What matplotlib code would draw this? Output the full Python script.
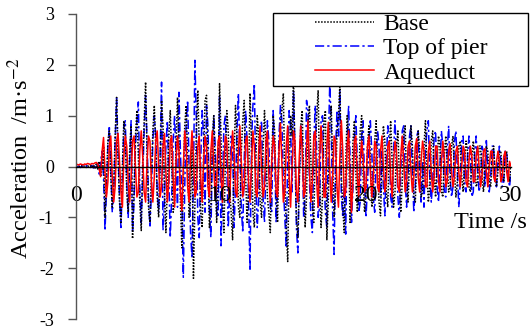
import matplotlib
matplotlib.use("Agg")
import matplotlib.pyplot as plt
from matplotlib.patches import Rectangle
import numpy as np

plt.rcParams['font.family'] = ['Liberation Serif', 'DejaVu Serif']
plt.rcParams['mathtext.fontset'] = 'stix'
plt.rcParams['axes.unicode_minus'] = False

dt = 0.1
base = [
    0.00, 0.01, -0.01, 0.02, 0.01, -0.01, 0.02, -0.02, 0.01, 0.00,
    0.02, -0.02, 0.03, -0.03, 0.05, -0.05, 0.10, -0.20, -0.05, 0.40,
    -1.00, -0.30, 0.50, 0.70, -0.20, -0.80, -0.40, 0.60, 1.36, 0.20,
    -0.70, -1.10, 0.00, 0.90, 0.60, -0.50, -0.90, 0.30, 0.80, -1.42,
    -0.50, 0.60, 1.10, 0.20, -0.70, -1.26, 0.10, 0.90, 1.66, 0.30,
    -0.80, -1.10, -0.20, 0.70, 1.20, 0.40, -0.60, -1.00, 0.00, 1.30,
    0.80, -0.50, -1.30, -0.40, 0.60, 1.10, 0.20, -0.90, -0.70, 0.40,
    1.36, 0.50, -0.70, -1.60, -0.30, 0.80, 1.20, 0.10, -1.00, -0.60,
    0.50, -2.20, -0.80, 0.70, 1.50, 0.40, -0.90, -1.20, 0.20, 1.30,
    1.40, 0.10, -1.20, -0.80, 0.50, 1.00, -0.10, -1.10, -0.30, 1.63,
    0.60, -0.70, -1.30, 0.10, 1.10, 0.70, -0.50, -0.90, -1.44, 0.20,
    1.20, 0.60, -0.80, -1.00, 0.30, 0.90, 1.30, -0.20, -1.10, -0.40,
    1.44, 0.50, -0.90, -1.20, 0.10, 1.00, 0.60, -0.70, -1.00, 0.30,
    1.10, 0.40, -0.60, -0.90, -1.30, 0.20, 1.00, 0.70, -0.60, -1.10,
    0.30, 0.90, 1.10, 1.44, -0.20, -1.20, -1.87, 0.00, 1.00, 0.60,
    1.78, 0.20, -1.00, -1.40, -0.30, 0.80, 1.10, -0.20, -1.20, -0.60,
    0.90, 1.20, 0.10, -0.80, -1.10, 0.40, 1.00, 1.50, -0.30, -1.20,
    -0.60, 0.90, 1.10, -1.44, -0.70, 0.80, 1.20, 0.10, -1.00, -0.50,
    0.70, 1.00, 1.63, -0.20, -0.80, -1.30, 0.10, 1.00, 0.60, -1.10,
    -0.60, 0.50, 0.90, -0.10, -0.90, -0.40, 0.70, 1.00, -0.20, -0.90,
    -0.50, 0.40, 0.80, 0.20, -0.80, -0.60, 0.50, 0.90, -0.10, -0.70,
    -0.97, 0.00, 0.80, 0.50, -0.50, -0.80, 0.30, 0.90, 0.10, -0.80,
    -0.50, 0.40, 0.70, -0.20, -0.90, -0.30, 0.60, 0.80, -0.30, -0.70,
    0.10, 0.80, 0.40, -0.60, -0.70, 0.20, 0.70, 0.30, -0.60, -0.50,
    0.40, 0.90, -0.10, -0.70, -0.40, 0.50, 0.70, -0.20, -0.60, 0.10,
    0.60, 0.40, -0.50, -0.60, 0.20, 0.60, 0.10, -0.50, -0.40, 0.40,
    0.60, -0.10, -0.60, -0.30, 0.40, 0.50, -0.20, -0.50, 0.10, 0.50,
    0.30, -0.40, -0.50, 0.20, 0.50, 0.10, -0.40, -0.30, 0.40, 0.40,
    -0.20, -0.50, 0.00, 0.40, 0.30, -0.30, -0.40, 0.20, 0.40, -0.10,
    -0.40, -0.10, 0.30, 0.30, -0.20, -0.30, 0.20, 0.30, -0.10, -0.30,
    0.00,
]
top_of_pier = [
    0.00, -0.01, 0.01, -0.02, 0.01, 0.00, -0.01, 0.02, -0.01, 0.01,
    -0.02, 0.02, -0.03, 0.04, -0.05, 0.06, -0.15, 0.10, 0.30, -0.20,
    -1.26, -0.50, 0.40, 0.80, 0.00, -0.90, -0.60, 0.50, 1.35, 0.40,
    -0.60, -1.20, -0.30, 0.80, 0.90, -0.30, -1.00, 0.10, 0.90, -1.30,
    -0.70, 0.40, 0.90, 1.27, -0.40, -1.10, -0.20, 0.70, 1.40, 0.50,
    -0.60, -1.20, -0.50, 0.50, 1.00, 0.60, -0.50, -0.90, 0.20, 1.66,
    -1.26, -0.70, 0.40, 0.90, -0.20, -1.40, -0.60, 0.50, 1.00, 0.20,
    -0.80, 1.46, 0.30, -0.60, -2.18, -0.40, 0.90, 1.30, 0.00, -1.30,
    -1.80, -0.20, 2.09, 0.90, -1.00, -1.40, 0.10, 1.10, 0.60, -0.90,
    1.20, 0.80, -0.80, -1.40, 0.20, 1.00, 0.40, -0.90, -1.00, 1.40,
    -1.56, -0.40, 0.80, 1.00, 0.00, -1.20, -0.50, 0.60, 0.40, -1.20,
    -0.40, 0.70, 1.44, 0.20, -0.80, -1.30, 0.10, 1.10, 0.50, -0.70,
    -2.05, 0.40, 1.20, 1.63, -0.30, -1.20, -0.60, 0.70, 0.90, -0.60,
    -1.10, 0.00, 0.90, 0.50, -0.80, -0.90, 1.10, 0.30, -1.10, -0.50,
    0.60, 1.20, 0.90, -0.40, -1.00, -1.60, 0.20, 1.10, 0.80, -0.50,
    1.50, 0.40, -1.20, -1.70, -0.20, 0.80, 0.60, -1.00, -0.60, 1.30,
    1.10, -0.30, -1.00, -1.30, 0.50, 1.20, 0.30, -1.00, -0.80, 0.90,
    1.00, -0.20, -0.90, -1.20, 0.40, 1.63, 0.90, -0.90, -1.73, 0.30,
    1.10, 0.60, 1.50, -0.60, -1.00, -0.40, -1.33, 0.50, 1.20, 0.20,
    -1.10, -0.40, 0.60, 1.00, 0.10, -0.90, -0.70, 0.60, 0.90, -0.30,
    -1.00, -0.40, 0.50, 0.90, 0.30, -0.60, -0.90, 0.20, 0.70, 0.40,
    -0.60, 0.30, -0.40, -0.97, 0.10, 0.80, 0.50, -0.60, -0.80, 0.30,
    0.90, 0.20, -0.60, -1.00, -0.10, 0.70, 0.80, -0.30, -0.80, -0.20,
    0.60, 0.80, -0.20, -0.90, -0.40, 0.60, 0.70, -0.30, -0.70, 0.10,
    -0.80, 0.30, 0.70, 0.90, -0.20, -0.70, -0.30, 0.60, 0.70, -0.40,
    -0.70, 0.00, 0.70, 0.40, -0.50, -0.60, 0.30, 0.80, -0.20, -0.60,
    -0.40, 0.50, 0.70, -0.10, -0.80, -0.30, 0.50, 0.60, -0.40, -0.50,
    0.20, 0.60, 0.20, -0.60, -0.50, 0.30, 0.60, -0.10, -0.50, -0.30,
    0.40, 0.30, -0.40, 0.51, -0.10, -0.50, -0.20, 0.40, 0.40, -0.30,
    -0.40, 0.10, 0.40, 0.10, -0.40, -0.30, 0.30, 0.30, -0.20, -0.40,
    -0.10,
]
aqueduct = [
    0.03, 0.04, 0.03, 0.05, 0.04, 0.03, 0.05, 0.04, 0.06, 0.05,
    0.04, 0.06, 0.05, 0.07, 0.08, 0.05, -0.05, -0.20, 0.30, 0.57,
    -0.10, -0.60, -0.30, 0.40, 0.60, -0.20, -0.70, -0.40, 0.50, 0.65,
    0.10, -0.50, -0.80, 0.20, 0.60, 0.40, -0.30, -0.70, -0.20, 0.50,
    0.60, 0.00, -0.60, -0.50, 0.30, 0.70, 0.20, -0.50, -0.70, 0.10,
    0.60, 0.50, -0.30, -0.70, -0.20, 0.50, 0.70, 0.00, -0.60, -0.40,
    0.40, 0.65, -0.10, -0.70, -0.30, 0.50, 0.60, -0.20, -0.80, 0.10,
    0.60, 0.30, -0.50, -0.87, 0.00, 0.70, 0.40, -0.40, -0.70, 0.20,
    0.70, 0.20, -0.60, -0.50, 0.40, 0.60, -0.20, -0.70, 0.10, 0.60,
    0.40, -0.40, -0.60, 0.30, 0.70, 0.00, -0.60, -0.30, 0.50, 0.60,
    -0.20, -0.70, 0.10, 0.60, 0.50, -0.40, -0.70, 0.20, 0.70, 0.30,
    -0.50, -0.60, 0.30, 0.80, 0.10, -0.60, -0.40, 0.50, 0.60, -0.30,
    -0.70, 0.00, 0.70, 0.40, -0.50, -0.60, 0.30, 0.80, -0.10, -0.60,
    -0.40, 0.50, 0.70, -0.20, -0.70, 0.10, 0.60, 0.40, -0.50, -0.60,
    0.30, 0.85, 0.10, -0.70, -0.50, 0.40, 0.80, -0.20, -0.80, 0.00,
    0.70, 0.50, -0.50, -0.70, 0.20, 0.80, 0.30, -0.60, -0.50, 0.40,
    0.90, -0.10, -0.70, -0.30, 0.60, 0.70, -0.30, -0.80, 0.20, 0.80,
    0.30, -0.60, -0.60, 0.40, 0.87, -0.10, -0.70, -0.20, 0.60, 0.50,
    -0.40, -0.80, 0.20, 0.90, 0.30, -0.60, -0.50, 0.40, 0.70, -0.20,
    -0.90, -0.30, 0.50, 0.60, -0.20, -0.60, 0.10, 0.50, 0.20, -0.50,
    -0.40, 0.40, 0.60, -0.10, -0.60, -0.20, 0.50, 0.40, -0.40, -0.50,
    0.30, 0.60, 0.00, -0.50, -0.30, 0.40, 0.50, -0.20, -0.60, 0.10,
    0.50, 0.30, -0.40, -0.50, 0.20, 0.60, 0.10, -0.50, -0.30, 0.40,
    0.50, -0.10, -0.50, -0.20, 0.40, 0.55, -0.20, -0.50, 0.10, 0.50,
    0.30, -0.40, -0.40, 0.30, 0.50, -0.10, -0.50, -0.20, 0.40, 0.40,
    -0.30, -0.50, 0.10, 0.50, 0.20, -0.40, -0.30, 0.30, 0.45, -0.10,
    -0.40, -0.20, 0.30, 0.40, -0.10, -0.40, 0.00, 0.40, 0.30, -0.30,
    -0.40, 0.10, 0.40, 0.20, -0.30, -0.30, 0.20, 0.40, 0.00, -0.40,
    -0.20, 0.30, 0.35, -0.10, -0.40, 0.00, 0.30, 0.30, -0.20, -0.30,
    0.10, 0.30, 0.10, -0.30, -0.20, 0.20, 0.30, -0.10, -0.30, 0.10,
    0.00,
]
time = np.arange(len(base)) * dt

xticks = [0, 10, 20, 30]
yticks = [-3, -2, -1, 0, 1, 2, 3]
labels = ['Base', 'Top of pier', 'Aqueduct']

W, H = 530, 329
fig = plt.figure(figsize=(W / 100, H / 100), dpi=100)
ax = fig.add_axes([76 / W, 10 / H, 435 / W, 305 / H])

l2, = ax.plot(time, top_of_pier, color='#0000ff', lw=1.1, ls=(0, (6, 2, 1.5, 2)), zorder=1.1, label=labels[1])
l1, = ax.plot(time, base, color='black', lw=1.1, ls=(0, (1, 1)), zorder=1.2, label=labels[0])
l3, = ax.plot(time, aqueduct, color='#ff0000', lw=1.1, ls='-', zorder=1.3, label=labels[2])

ax.set_xlim(0, 30)
ax.set_ylim(-3, 3)
for s in ['top', 'right']:
    ax.spines[s].set_visible(False)
ax.spines['bottom'].set_position(('data', 0))
ax.spines['bottom'].set_color('black')
ax.spines['bottom'].set_linewidth(1.0)
ax.spines['left'].set_color('#555555')
ax.spines['left'].set_linewidth(1.0)

ax.set_xticks(xticks)
ax.set_xticklabels([str(v) for v in xticks])
ax.tick_params(axis='x', length=0, pad=13, labelsize=17)
ax.set_yticks(yticks)
ax.set_yticklabels([str(v) for v in yticks])
ax.tick_params(axis='y', direction='out', length=6, width=1.0, color='#555555', pad=10, labelsize=13)

fig.text(490 / W, 1 - 222 / H, 'Time /s', ha='center', va='center', fontsize=17.5)
fig.text(20 / W, 1 - 158 / H, 'Acceleration  /m\u00b7s$^{-2}$', rotation=90,
         ha='center', va='center', fontsize=17.5)

leg = fig.legend([l1, l2, l3], labels, loc='upper left',
                 bbox_to_anchor=(315 / W, 1 - 13.5 / H), frameon=False,
                 fontsize=17, handlelength=2.5, handletextpad=0.4,
                 labelspacing=0.12, borderpad=0.0, borderaxespad=0.0)
fig.add_artist(Rectangle((273 / W, 1 - 86 / H), (528 - 273) / W, (86 - 13) / H,
                         transform=fig.transFigure, fill=True, facecolor='white',
                         edgecolor='black', lw=1.0, zorder=1))
leg.set_zorder(10)

fig.savefig('out.png', dpi=100)
